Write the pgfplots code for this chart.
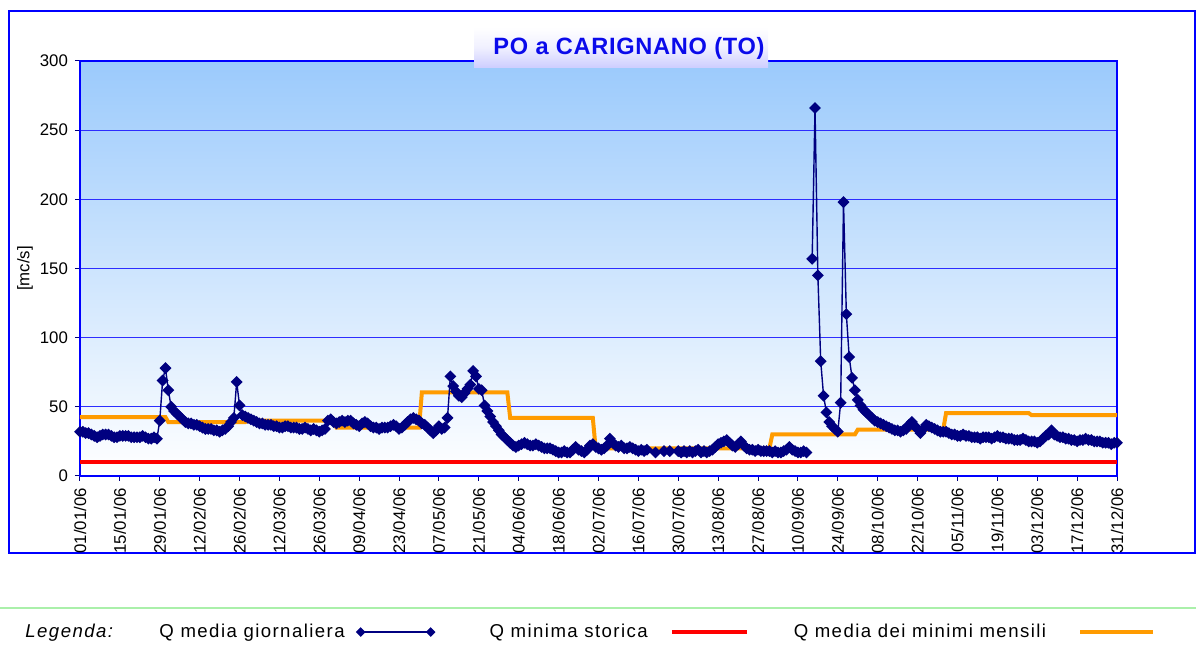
\documentclass[border=0pt]{standalone}
\usepackage{pgfplots}
\pgfplotsset{compat=1.18}
\usepackage{fontspec}
\setmainfont{Liberation Sans}
\definecolor{navyq}{RGB}{0,0,128}
\definecolor{orq}{RGB}{255,155,0}
\definecolor{gridb}{RGB}{45,45,255}
\definecolor{bgtop}{RGB}{155,202,252}
\definecolor{ttl}{RGB}{10,10,235}
\definecolor{lgreen}{RGB}{170,240,170}
\definecolor{lav}{RGB}{205,205,255}
\pgfplotsset{
  markleg/.style={legend image code/.code={\draw[##1] plot coordinates {(0pt,0pt) (35pt,0pt)};}},
  lineleg/.style={legend image code/.code={\draw[##1] (0pt,0pt) -- (#1,0pt);}},
}
\begin{document}
\begin{tikzpicture}
\path[use as bounding box] (0pt,0pt) rectangle (598pt,-325.5pt);
\draw[blue, line width=0.75pt] (4.5pt,-5.5pt) rectangle (597.5pt,-276.5pt);
\draw[lgreen, line width=0.6pt] (0pt,-304pt) -- (598pt,-304pt);
\begin{axis}[
  at={(40pt,-238pt)}, anchor=south west,
  scale only axis, width=518.5pt, height=207.5pt,
  xmin=0, xmax=364, ymin=0, ymax=300,
  clip=false,
  axis background/.style={top color=bgtop, bottom color=white},
  axis line style={blue, line width=0.6pt},
  xtick={0,14,...,364},
  xticklabels={01/01/06,15/01/06,29/01/06,12/02/06,26/02/06,12/03/06,26/03/06,09/04/06,23/04/06,07/05/06,21/05/06,04/06/06,18/06/06,02/07/06,16/07/06,30/07/06,13/08/06,27/08/06,10/09/06,24/09/06,08/10/06,22/10/06,05/11/06,19/11/06,03/12/06,17/12/06,31/12/06},
  ytick={0,50,...,300},
  ymajorgrids, grid style={gridb, line width=0.5pt},
  tick align=outside, tick pos=left, major tick length=2.5pt,
  tick style={blue!50!black, line width=0.5pt},
  ticklabel style={font=\fontsize{8.4}{10}\selectfont},
  xticklabel style={rotate=90, anchor=east, xshift=0pt},
  /pgf/number format/assume math mode=true,
  ylabel={[mc/s]},
  ylabel style={at={(axis description cs:-0.053,0.5)}, anchor=center, font=\fontsize{8.4}{10}\selectfont},
  legend plot pos=right,
  legend columns=4,
  legend style={at={(-0.053,-0.376)}, anchor=west, draw=none, fill=none, inner sep=0pt,
     nodes={inner sep=0pt}, column sep=0pt,
     font=\fontsize{9.3}{11}\selectfont\addfontfeature{LetterSpace=7.7}},
]
\addlegendimage{empty legend}
\addlegendentry{\textit{Legenda:}}
\addlegendimage{navyq, line width=0.6pt, mark=square*, mark size=1.4pt, mark options={rotate=45,solid}, markleg}
\addlegendentry{\hspace{22.5pt}Q media giornaliera\kern6pt}
\addlegendimage{red, line width=2pt, lineleg=37.5pt}
\addlegendentry{\hspace{27.5pt}Q minima storica\kern11pt}
\addlegendimage{orq, line width=2pt, lineleg=36.5pt}
\addlegendentry{\hspace{22.5pt}Q media dei minimi mensili\kern16pt}

\addplot[orq, line width=2pt, forget plot] coordinates {
(0,42.5) (30,42.5) (31,39) (58,39) (59,40) (89,40) (90,35) (119,35) (120,60.5) (150,60.5)
(151,42) (180,42) (181,20) (211,20) (212,20) (242,20) (243,30) (272,30) (273,33.5) (303,33.5)
(304,45.5) (333,45.5) (334,44) (364,44)};
\addplot[red, line width=2pt, forget plot] coordinates {(0,10) (364,10)};
\addplot[navyq, line width=0.7pt, mark=square*, mark size=1.75pt, mark options={rotate=45,solid}, unbounded coords=jump, forget plot] coordinates {
(0,32) (1,32) (2,31) (3,31) (4,30) (5,29) (6,28) (7,29) (8,30) (9,30)
(10,30) (11,29) (12,28) (13,28) (14,29) (15,29) (16,29) (17,29) (18,28) (19,28)
(20,28) (21,28) (22,29) (23,28) (24,27) (25,27) (26,28) (27,27) (28,40) (29,69)
(30,78) (31,62) (32,50) (33,47) (34,45) (35,43) (36,41) (37,39) (38,38) (39,38)
(40,37) (41,37) (42,36) (43,35) (44,34) (45,34) (46,34) (47,33) (48,33) (49,32)
(50,33) (51,34) (52,36) (53,39) (54,42) (55,68) (56,51) (57,44) (58,43) (59,42)
(60,41) (61,40) (62,39) (63,38) (64,38) (65,37) (66,37) (67,37) (68,36) (69,36)
(70,35) (71,35) (72,36) (73,36) (74,35) (75,35) (76,35) (77,34) (78,34) (79,35)
(80,34) (81,33) (82,34) (83,33) (84,32) (85,33) (86,34) (87,40) (88,41) (89,39)
(90,38) (91,39) (92,40) (93,39) (94,40) (95,40) (96,38) (97,37) (98,36) (99,38)
(100,39) (101,38) (102,36) (103,35) (104,35) (105,34) (106,35) (107,35) (108,35) (109,36)
(110,37) (111,36) (112,34) (113,35) (114,37) (115,39) (116,41) (117,42) (118,41) (119,40)
(120,38) (121,37) (122,35) (123,33) (124,31) (125,33) (126,36) (127,34) (128,35) (129,42)
(130,72) (131,65) (132,61) (133,58) (134,57) (135,60) (136,63) (137,66) (138,76) (139,72)
(140,63) (141,62) (142,51) (143,47) (144,43) (145,39) (146,36) (147,33) (148,30) (149,28)
(150,26) (151,24) (152,22) (153,21) (154,22) (155,23) (156,24) (157,23) (158,22) (159,22)
(160,23) (161,22) (162,21) (163,20) (164,20) (165,20) (166,19) (167,18) (168,17) (169,17)
(170,18) (171,17) (172,17) (173,19) (174,21) (175,19) (176,18) (177,17) (178,19) (179,22)
(180,23) (181,21) (182,20) (183,19) (184,20) (185,22) (186,27) (187,24) (188,22) (189,21)
(190,22) (191,20) (192,20) (193,21) (194,20) (195,19) (196,18) (197,19) (198,18) (199,19)
(200,nan) (201,nan) (202,17) (203,nan) (204,nan) (205,18) (206,nan) (207,18) (208,nan) (209,nan)
(210,18) (211,17) (212,18) (213,17) (214,18) (215,17) (216,18) (217,19) (218,17) (219,18)
(220,17) (221,18) (222,19) (223,21) (224,23) (225,24) (226,25) (227,26) (228,24) (229,22)
(230,21) (231,23) (232,25) (233,22) (234,20) (235,19) (236,19) (237,18) (238,19) (239,18)
(240,18) (241,18) (242,18) (243,17) (244,18) (245,17) (246,17) (247,18) (248,19) (249,21)
(250,19) (251,18) (252,17) (253,17) (254,18) (255,17) (256,nan) (257,157) (258,266) (259,145)
(260,83) (261,58) (262,46) (263,39) (264,36) (265,34) (266,32) (267,53) (268,198) (269,117)
(270,86) (271,71) (272,62) (273,55) (274,51) (275,48) (276,46) (277,44) (278,42) (279,40)
(280,39) (281,38) (282,37) (283,36) (284,35) (285,34) (286,33) (287,33) (288,32) (289,33)
(290,34) (291,37) (292,39) (293,36) (294,34) (295,31) (296,34) (297,37) (298,36) (299,35)
(300,34) (301,33) (302,32) (303,32) (304,32) (305,31) (306,30) (307,30) (308,29) (309,29)
(310,30) (311,29) (312,29) (313,28) (314,28) (315,28) (316,27) (317,28) (318,28) (319,28)
(320,27) (321,28) (322,29) (323,28) (324,28) (325,27) (326,27) (327,27) (328,26) (329,26)
(330,26) (331,27) (332,26) (333,25) (334,25) (335,25) (336,24) (337,25) (338,27) (339,29)
(340,30) (341,33) (342,30) (343,29) (344,28) (345,28) (346,27) (347,27) (348,26) (349,26)
(350,25) (351,26) (352,26) (353,27) (354,26) (355,26) (356,25) (357,25) (358,25) (359,24)
(360,24) (361,24) (362,23) (363,24) (364,24)};
\end{axis}
\fill[top color=white, bottom color=lav, middle color=white!70!lav] (237pt,-13.5pt) rectangle (384pt,-34pt);
\node[text=ttl, anchor=base, inner sep=0pt, font=\bfseries\fontsize{11.8}{13}\selectfont\addfontfeature{LetterSpace=3}] at (314.5pt,-27.1pt) {PO a CARIGNANO (TO)};
\end{tikzpicture}
\end{document}
